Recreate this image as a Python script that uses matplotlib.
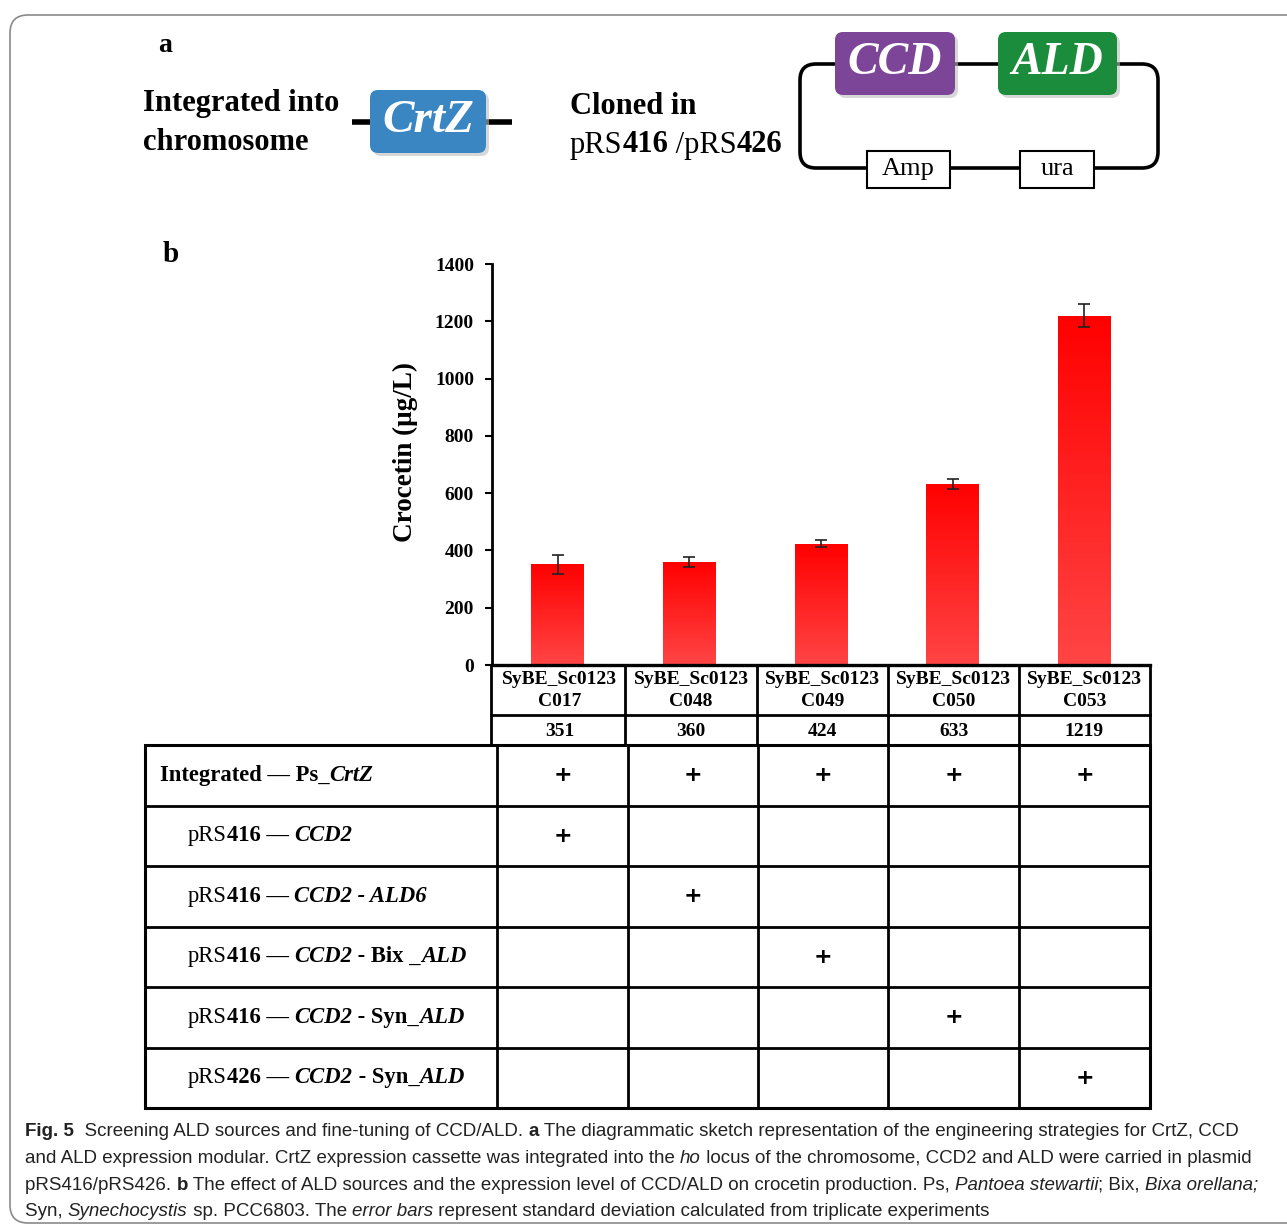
import matplotlib
matplotlib.use('Agg')
import matplotlib.pyplot as plt
import numpy as np
from matplotlib.patches import FancyBboxPatch, Rectangle
from matplotlib.colors import LinearSegmentedColormap

plt.rcParams['font.family'] = 'Liberation Serif'

# ---- data ----
strain_prefix = 'SyBE_Sc0123'
strains = ['C017', 'C048', 'C049', 'C050', 'C053']
crocetin = [351, 360, 424, 633, 1219]
crocetin_sd = [33, 18, 12, 18, 40]
yticks = [0, 200, 400, 600, 800, 1000, 1200, 1400]

# construct rows, as runs of (text, weight, style)
constructs = [
    [('Integrated \u2014 Ps_', 'bold', 'normal'), ('CrtZ', 'bold', 'italic')],
    [('pRS', 'normal', 'normal'), ('416 \u2014 ', 'bold', 'normal'), ('CCD2', 'bold', 'italic')],
    [('pRS', 'normal', 'normal'), ('416 \u2014 ', 'bold', 'normal'), ('CCD2 - ALD6', 'bold', 'italic')],
    [('pRS', 'normal', 'normal'), ('416 \u2014 ', 'bold', 'normal'), ('CCD2', 'bold', 'italic'),
     (' - Bix _', 'bold', 'normal'), ('ALD', 'bold', 'italic')],
    [('pRS', 'normal', 'normal'), ('416 \u2014 ', 'bold', 'normal'), ('CCD2', 'bold', 'italic'),
     (' - Syn_', 'bold', 'normal'), ('ALD', 'bold', 'italic')],
    [('pRS', 'normal', 'normal'), ('426 \u2014 ', 'bold', 'normal'), ('CCD2', 'bold', 'italic'),
     (' - Syn_', 'bold', 'normal'), ('ALD', 'bold', 'italic')],
]
present = [
    [1, 1, 1, 1, 1],
    [1, 0, 0, 0, 0],
    [0, 1, 0, 0, 0],
    [0, 0, 1, 0, 0],
    [0, 0, 0, 1, 0],
    [0, 0, 0, 0, 1],
]

caption = [
    [('Fig. 5', 'bold', 'normal'), ('  Screening ALD sources and fine-tuning of CCD/ALD. ', 'normal', 'normal'),
     ('a', 'bold', 'normal'),
     (' The diagrammatic sketch representation of the engineering strategies for CrtZ, CCD', 'normal', 'normal')],
    [('and ALD expression modular. CrtZ expression cassette was integrated into the ', 'normal', 'normal'),
     ('ho', 'normal', 'italic'),
     (' locus of the chromosome, CCD2 and ALD were carried in plasmid', 'normal', 'normal')],
    [('pRS416/pRS426. ', 'normal', 'normal'), ('b', 'bold', 'normal'),
     (' The effect of ALD sources and the expression level of CCD/ALD on crocetin production. Ps, ', 'normal', 'normal'),
     ('Pantoea stewartii', 'normal', 'italic'), ('; Bix, ', 'normal', 'normal'),
     ('Bixa orellana;', 'normal', 'italic')],
    [('Syn, ', 'normal', 'normal'), ('Synechocystis', 'normal', 'italic'),
     (' sp. PCC6803. The ', 'normal', 'normal'), ('error bars', 'normal', 'italic'),
     (' represent standard deviation calculated from triplicate experiments', 'normal', 'normal')],
]

fig = plt.figure(figsize=(12.87, 12.31), dpi=100)
ov = fig.add_axes([0, 0, 1, 1])
ov.set_xlim(0, 1287)
ov.set_ylim(1231, 0)
ov.axis('off')
renderer = fig.canvas.get_renderer()


def runs(x, y, parts, size, family=None, color='black'):
    for s, w, st in parts:
        kw = {}
        if family is not None:
            kw['family'] = family
        t = ov.text(x, y, s, fontsize=size, fontweight=w, fontstyle=st,
                    va='center', ha='left', color=color, zorder=5, **kw)
        bb = t.get_window_extent(renderer)
        x += bb.width
    return x


# outer frame
ov.add_patch(FancyBboxPatch((10, 15), 1300, 1208, boxstyle='round,pad=0,rounding_size=18',
                            fc='none', ec='#8a8a8a', lw=1.2))

# ---- panel a ----
ov.text(158, 46, 'a', fontsize=20, fontweight='bold', va='center')
ov.text(143, 104, 'Integrated into', fontsize=22, fontweight='bold', va='center')
ov.text(143, 143, 'chromosome', fontsize=22, fontweight='bold', va='center')
ov.plot([352, 512], [122, 122], color='black', lw=4, solid_capstyle='butt', zorder=1)
ov.add_patch(FancyBboxPatch((373, 93), 116, 63, boxstyle='round,pad=0,rounding_size=8',
                            fc='#bdbdbd', ec='none', alpha=0.6, zorder=2))
ov.add_patch(FancyBboxPatch((370, 90), 116, 63, boxstyle='round,pad=0,rounding_size=8',
                            fc='#3a86c2', ec='none', zorder=3))
ov.text(428, 121, 'CrtZ', fontsize=34, fontweight='bold', fontstyle='italic', color='white',
        ha='center', va='center', zorder=4)

ov.text(570, 106, 'Cloned in', fontsize=22, fontweight='bold', va='center')
runs(570, 145, [('pRS', 'normal', 'normal'), ('416', 'bold', 'normal'),
                (' /pRS', 'normal', 'normal'), ('426', 'bold', 'normal')], 22)

ov.add_patch(FancyBboxPatch((800, 64), 358, 104, boxstyle='round,pad=0,rounding_size=16',
                            fc='none', ec='black', lw=2.6, zorder=1))
for x0, w, c, lab in [(835, 120, '#7d4597', 'CCD'), (998, 119, '#1b8c3c', 'ALD')]:
    ov.add_patch(FancyBboxPatch((x0 + 3, 35), w, 63, boxstyle='round,pad=0,rounding_size=8',
                                fc='#bdbdbd', ec='none', alpha=0.6, zorder=2))
    ov.add_patch(FancyBboxPatch((x0, 32), w, 63, boxstyle='round,pad=0,rounding_size=8',
                                fc=c, ec='none', zorder=3))
    ov.text(x0 + w / 2, 63, lab, fontsize=33, fontweight='bold', fontstyle='italic',
            color='white', ha='center', va='center', zorder=4)
for x0, w, lab in [(867, 83, 'Amp'), (1020, 74, 'ura')]:
    ov.add_patch(Rectangle((x0, 151), w, 37, fc='white', ec='black', lw=1.5, zorder=3))
    ov.text(x0 + w / 2, 169, lab, fontsize=19, ha='center', va='center', zorder=4)

# ---- panel b: bar chart ----
ov.text(163, 255, 'b', fontsize=21, fontweight='bold', va='center')
W, H = 1287, 1231
ax = fig.add_axes([492 / W, (H - 665) / H, (1150 - 492) / W, (665 - 264) / H])
ax.patch.set_alpha(0)
x = np.arange(len(crocetin))
bars = ax.bar(x, crocetin, width=0.4, color='#ff2020', zorder=2)
cmap = LinearSegmentedColormap.from_list('redgrad', ['#ff4545', '#ff0000'])
grad = np.linspace(0, 1, 256).reshape(-1, 1)
for b in bars:
    im = ax.imshow(grad, extent=[b.get_x(), b.get_x() + b.get_width(), 0, b.get_height()],
                   origin='lower', aspect='auto', cmap=cmap, zorder=2)
    im.set_clip_path(b)
ax.errorbar(x, crocetin, yerr=crocetin_sd, fmt='none', ecolor='#222222', elinewidth=1.2,
            capsize=4, capthick=1.2, zorder=3)
ax.set_xlim(-0.5, 4.5)
ax.set_ylim(0, 1400)
ax.set_yticks(yticks)
ax.set_xticks([])
for s in ['top', 'right']:
    ax.spines[s].set_visible(False)
ax.spines['left'].set_linewidth(2)
ax.spines['bottom'].set_linewidth(2.4)
ax.tick_params(axis='y', direction='out', length=5, width=1.5, labelsize=14, pad=8)
for lab in ax.get_yticklabels():
    lab.set_fontweight('bold')
ov.text(405, 452, 'Crocetin (\u03bcg/L)', fontsize=19.5, fontweight='bold', rotation=90,
        ha='center', va='center')

# ---- strain / value header under the bars ----
top_edges = [494, 625, 757, 888, 1019, 1150]
ov.plot([491, 1150], [715, 715], color='black', lw=2)
ov.plot([491, 1150], [745, 745], color='black', lw=2)
ov.plot([491, 491], [665, 745], color='black', lw=2)
for xe in top_edges[1:]:
    ov.plot([xe, xe], [665, 745], color='black', lw=2)
for i, s in enumerate(strains):
    xc = (top_edges[i] + top_edges[i + 1]) / 2
    ov.text(xc, 679, strain_prefix, fontsize=14, fontweight='bold', ha='center', va='center')
    ov.text(xc, 701, s, fontsize=14, fontweight='bold', ha='center', va='center')
    ov.text(xc, 731, str(crocetin[i]), fontsize=14, fontweight='bold', ha='center', va='center')

# ---- construct table ----
low_edges = [497, 628, 758, 888, 1019, 1150]
row_edges = np.linspace(745, 1108, len(constructs) + 1)
ov.add_patch(Rectangle((145, 745), 1150 - 145, 1108 - 745, fc='none', ec='black', lw=2.2))
for ye in row_edges[1:-1]:
    ov.plot([145, 1150], [ye, ye], color='black', lw=2)
for xe in low_edges[:-1]:
    ov.plot([xe, xe], [745, 1108], color='black', lw=2)
for r, parts in enumerate(constructs):
    yc = (row_edges[r] + row_edges[r + 1]) / 2
    runs(160 if r == 0 else 188, yc, parts, 16.3)
    for c in range(len(strains)):
        if present[r][c]:
            ov.text((low_edges[c] + low_edges[c + 1]) / 2, yc, '+', fontsize=16,
                    family='DejaVu Sans', fontweight='bold', ha='center', va='center')

# ---- caption ----
for i, parts in enumerate(caption):
    runs(25, 1132 + i * 26.5, parts, 13.5, family='Liberation Sans', color='#222222')

fig.savefig('out.png', dpi=100)
